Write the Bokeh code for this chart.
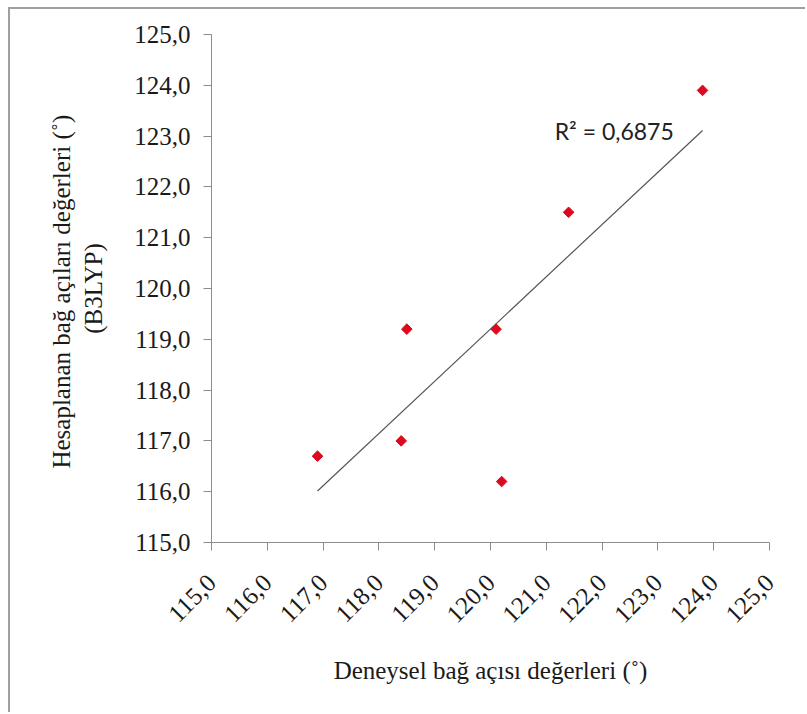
import numpy as np
from bokeh.plotting import figure
from bokeh.models import Range1d, FixedTicker, Label
from bokeh.embed import file_html
from bokeh.resources import INLINE

# Data
exp_angles = [116.9, 118.4, 118.5, 120.1, 120.2, 121.4, 123.8]
calc_angles = [116.7, 117.0, 119.2, 119.2, 116.2, 121.5, 123.9]
tick_values = [115, 116, 117, 118, 119, 120, 121, 122, 123, 124, 125]
tick_labels = ["115,0", "116,0", "117,0", "118,0", "119,0", "120,0",
               "121,0", "122,0", "123,0", "124,0", "125,0"]
r2_text = "R² = 0,6875"
x_title = "Deneysel bağ açısı değerleri (˚)"
y_title = "Hesaplanan bağ  açıları değerleri (˚)\n(B3LYP)"

W, H = 797, 705
p = figure(width=W, height=H, output_backend="svg", toolbar_location=None,
           x_range=Range1d(115, 125), y_range=Range1d(115, 125),
           min_border_left=201, min_border_right=W - 759,
           min_border_top=25, min_border_bottom=H - 533)
p.styles = {"margin-left": "10px", "margin-top": "9px",
            "box-shadow": "-2px -2px 0px 0px #a0a0a0"}
p.background_fill_color = "white"
p.border_fill_color = "white"
p.outline_line_color = None
p.grid.visible = False

overrides = {v: s for v, s in zip(tick_values, tick_labels)}
for ax in (p.xaxis[0], p.yaxis[0]):
    ax.ticker = FixedTicker(ticks=tick_values)
    ax.major_label_overrides = overrides
    ax.minor_tick_line_color = None
    ax.major_tick_in = 0
    ax.major_tick_out = 8
    ax.axis_line_color = "#8c8c8c"
    ax.major_tick_line_color = "#8c8c8c"
    ax.major_label_text_font = "Liberation Serif"
    ax.major_label_text_font_size = "25px"
    ax.major_label_text_color = "#1a1a1a"
    ax.axis_label_text_font = "Liberation Serif"
    ax.axis_label_text_font_size = "25px"
    ax.axis_label_text_font_style = "normal"
    ax.axis_label_text_color = "#1a1a1a"

p.xaxis.major_label_orientation = np.pi / 4
p.xaxis.axis_label = x_title
p.xaxis.axis_label_standoff = 24
p.xaxis.major_label_standoff = 28
p.yaxis.axis_label = y_title
p.yaxis.axis_label_standoff = 24
p.yaxis.major_label_standoff = 13

# Linear trendline through the data
slope, intercept = np.polyfit(exp_angles, calc_angles, 1)
xs = [min(exp_angles), max(exp_angles)]
ys = [slope * x + intercept for x in xs]
p.line(xs, ys, line_color="#555555", line_width=1.2)

p.scatter(exp_angles, calc_angles, marker="square", angle=np.pi / 4, size=7.5,
          fill_color="#dc0a1e", line_color="#dc0a1e")

p.add_layout(Label(x=121.15, y=123.1, text=r2_text, text_font="Lato",
                   text_font_size="23px", text_color="#222222",
                   text_baseline="middle", text_align="left"))

open("out.html", "w").write(file_html(p, INLINE))
